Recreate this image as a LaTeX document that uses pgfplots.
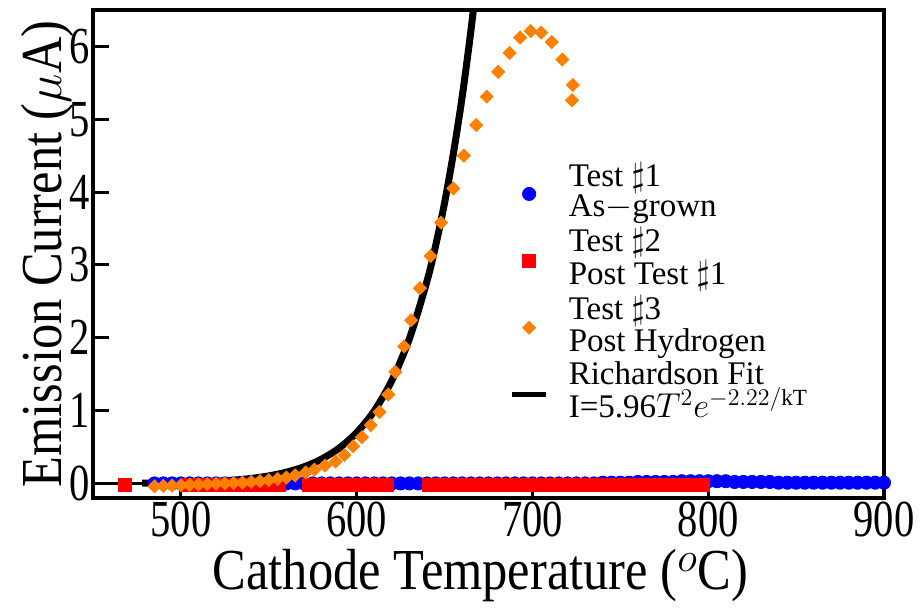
\documentclass[border=0pt]{standalone}
\usepackage{fontspec}
\setmainfont{Liberation Serif}
\newfontfamily\narrowserif{Liberation Serif}[FakeStretch=0.87]
\newfontfamily\ticksserif{Liberation Serif}[FakeStretch=0.78]
\usepackage{pgfplots}
\pgfplotsset{compat=1.18}
\definecolor{tblue}{RGB}{0,0,255}
\definecolor{tred}{RGB}{255,0,0}
\definecolor{torange}{RGB}{255,128,0}

\begin{document}
\begin{tikzpicture}
\begin{axis}[
  scale only axis, width=395.5pt, height=244pt,
  xmin=450, xmax=900, ymin=-0.2, ymax=6.5,
  xtick={500,600,...,900}, ytick={0,...,6},
  xticklabels={500,600,700,800,900},
  yticklabels={0,1,2,3,4,5,6},
  tick align=inside, xtick pos=bottom, ytick pos=left,
  major tick length=8pt,
  every tick/.style={black, line width=1.5pt},
  axis line style={line width=2.2pt},
  axis on top,
  ticklabel style={font=\ticksserif\fontsize{26}{30}\selectfont},
  xticklabel style={inner sep=2pt},
  yticklabel style={inner sep=1.5pt},
  label style={font=\narrowserif\fontsize{29}{34}\selectfont},
  xlabel={Cathode Temperature (${}^{o}$C)},
  ylabel={Emission Current ($\mu$A)},
  xlabel style={at={(rel axis cs:0.49,-0.1885)}, anchor=base},
  ylabel style={at={(rel axis cs:-0.0392,0.5)}, anchor=base},
  legend cell align=left,
  legend style={draw=none, fill=none, at={(rel axis cs:0.526,0.693)},
    anchor=north west, inner sep=0pt,
    font=\fontsize{16.5}{12}\selectfont,
    row sep=2pt, column sep=9pt,
    nodes={inner sep=1pt}, cells={align=left}},
  legend image post style={yshift=-1.5pt},
]

% zero reference line
\addplot[black, line width=1.2pt, forget plot] coordinates {(450,0) (900,0)};

% Test #1 (as-grown)
\addplot[only marks, mark=*, mark size=3.3pt, color=tblue] coordinates {
(485,0)(490,0)(495,0)(500,0)(505,0)(510,0)(515,0)(520,0)(525,0)(530,0)
(535,0)(540,0)(545,0)(550,0)(555,0)(560,0)(565,0)(570,0)(575,0)(580,0)
(585,0)(590,0)(595,0)(600,0)(605,0)(610,0)(615,0)(620,0)(625,0)(630,0)
(635,0)(640,0)(645,0)(650,0)(655,0)(660,0)(665,0)(670,0)(675,0)(680,0)
(685,0)(690,0)(695,0)(700,0)(705,0)(710,0)(715,0)(720,0)(725,0)(730,0)
(735,0)(740,0.01)(745,0.01)(750,0.01)(755,0.01)(760,0.02)(765,0.02)(770,0.02)
(775,0.02)(780,0.02)(785,0.03)(790,0.03)(795,0.03)(800,0.03)(805,0.03)(810,0.03)
(815,0.02)(820,0.02)(825,0.02)(830,0.02)(835,0.02)(840,0.01)(845,0.01)(850,0.01)
(855,0.01)(860,0.01)(865,0.01)(870,0.01)(875,0.01)(880,0.01)(885,0.01)(890,0.01)
(895,0.01)(900,0.01)
};
\addlegendentry{Test $\sharp$1\\As$-$grown}

% Test #2 (post test #1)
\addplot[only marks, mark=square*, mark size=3.25pt, color=tred] coordinates {
(468,-0.02)
(504,-0.02)(508,-0.02)(512,-0.02)(516,-0.02)(520,-0.02)(524,-0.02)(528,-0.02)
(532,-0.02)(536,-0.02)(540,-0.02)(544,-0.02)(548,-0.02)(552,-0.02)(556,-0.02)
(573,-0.02)(577,-0.02)(581,-0.02)(585,-0.02)(589,-0.02)(593,-0.02)(597,-0.02)
(601,-0.02)(605,-0.02)(609,-0.02)(613,-0.02)(617,-0.02)
(641,-0.02)(645,-0.02)(649,-0.02)(653,-0.02)(657,-0.02)(661,-0.02)(665,-0.02)
(669,-0.02)(673,-0.02)(677,-0.02)(681,-0.02)(685,-0.02)(689,-0.02)(693,-0.02)
(697,-0.02)(701,-0.02)(705,-0.02)(709,-0.02)(713,-0.02)(717,-0.02)(721,-0.02)
(725,-0.02)(729,-0.02)(733,-0.02)(737,-0.02)(741,-0.02)(745,-0.02)(749,-0.02)
(753,-0.02)(757,-0.02)(761,-0.02)(765,-0.02)(769,-0.02)(773,-0.02)(777,-0.02)
(781,-0.02)(785,-0.02)(789,-0.02)(793,-0.02)(797,-0.02)
};
\addlegendentry{Test $\sharp$2\\Post Test $\sharp$1}

% Test #3 (post hydrogen)
\addplot[only marks, mark=square*, mark size=2.3pt, color=torange,
  every mark/.append style={rotate=45}] coordinates {
(485,-0.04)(490,-0.035)(495,-0.03)(500,-0.025)(505,-0.02)(510,-0.015)
(515,-0.01)(520,-0.005)(525,0.0)(530,0.005)(535,0.01)(540,0.02)
(545,0.03)(550,0.045)(555,0.06)(560,0.08)(565,0.11)(571,0.15)
(576,0.19)(582,0.245)(588,0.30)(593,0.39)(598,0.51)(603,0.635)
(608,0.80)(613,0.98)(618,1.22)(622,1.53)(627,1.88)(631,2.24)
(636,2.68)(642,3.12)(648,3.58)(655,4.05)(661,4.50)(668,4.92)
(674,5.31)(680.5,5.65)(687,5.91)(693,6.12)(699,6.21)(705,6.19)
(711,6.06)(717,5.82)(723,5.47)(722.5,5.26)
};
\addlegendentry{Test $\sharp$3\\Post Hydrogen}

% Richardson fit, I = 5.96 T^2 exp(-2.22/kT)
\addplot[black, line width=3.5pt, smooth, forget plot] coordinates {
(478,0.0043)(490,0.0076)(500,0.0120)(510,0.0189)(520,0.0293)(530,0.0451)
(540,0.0685)(550,0.1032)(560,0.1540)(570,0.2274)(580,0.3333)(590,0.4838)
(600,0.6968)(610,0.9956)(620,1.4123)(630,1.9866)(640,2.777)(645,3.272)
(650,3.850)(655,4.527)(660,5.305)(665,6.218)(670,7.265)
};
\addlegendimage{black, line width=2.6pt}
\addlegendentry{Richardson Fit\\I=5.96$T^2e^{-2.22/\mathrm{kT}}$}
\end{axis}
\pgfresetboundingbox
\path ([xshift=-46.5pt,yshift=-56pt]current axis.south west)
  rectangle ([xshift=18pt,yshift=5pt]current axis.north east);
\end{tikzpicture}
\end{document}
